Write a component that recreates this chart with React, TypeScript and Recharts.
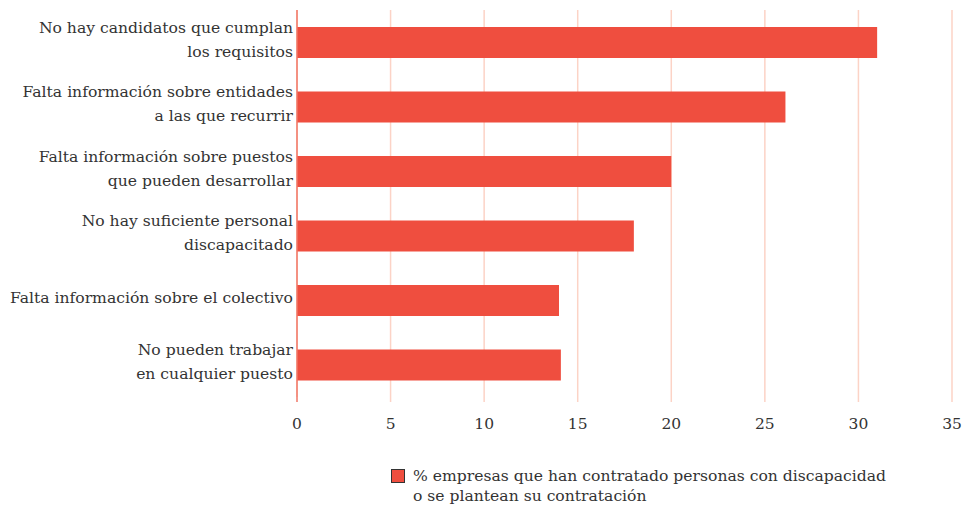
import * as React from "react";
import { BarChart, Bar, XAxis, YAxis, CartesianGrid } from "recharts";

const categories = [
  "No hay candidatos que cumplan\nlos requisitos",
  "Falta información sobre entidades\na las que recurrir",
  "Falta información sobre puestos\nque pueden desarrollar",
  "No hay suficiente personal\ndiscapacitado",
  "Falta información sobre el colectivo",
  "No pueden trabajar\nen cualquier puesto",
];
const values = [31, 26.1, 20, 18, 14, 14.1];
const xTicks = [0, 5, 10, 15, 20, 25, 30, 35];
const legendLines = [
  "% empresas que han contratado personas con discapacidad",
  "o se plantean su contratación",
];

const BAR = "#ef4e3f";
const GRID = "#fcd3c6";
const AXIS = "#f07767";
const TEXT = "#333333";
const FONT = "'DejaVu Serif', serif";

const data = categories.map((c, i) => ({ name: c, value: values[i] }));

function YTick({ x, y, payload }: any) {
  const lines = String(payload.value).split("\n");
  const n = lines.length;
  return (
    <text
      x={x}
      y={y}
      textAnchor="end"
      fill={TEXT}
      fontSize={15.6}
      fontFamily={FONT}
    >
      {lines.map((l, i) => (
        <tspan key={i} x={x} y={y + 2.5 + (i - (n - 1) / 2) * 24}>
          {l}
        </tspan>
      ))}
    </text>
  );
}

function XTick({ x, y, payload }: any) {
  const isZero = payload.value === 0;
  return (
    <g>
      <line
        x1={x}
        x2={x}
        y1={y - 5}
        y2={y}
        stroke={isZero ? AXIS : GRID}
        strokeWidth={1.5}
      />
      <text
        x={x}
        y={y + 26.5}
        textAnchor="middle"
        fill={TEXT}
        fontSize={15.5}
        fontFamily={FONT}
      >
        {payload.value}
      </text>
    </g>
  );
}

export default function App() {
  return (
    <div
      style={{
        position: "absolute",
        left: 0,
        top: 0,
        width: 966,
        height: 511,
        background: "#fff",
        fontFamily: FONT,
      }}
    >
      <BarChart
        width={966}
        height={440}
        data={data}
        layout="vertical"
        margin={{ top: 10, right: 14, bottom: 0, left: 0 }}
        barSize={31}
      >
        <CartesianGrid
          horizontal={false}
          stroke={GRID}
          strokeWidth={1.5}
        />
        <XAxis
          type="number"
          domain={[0, 35]}
          ticks={xTicks}
          axisLine={false}
          tickLine={false}
          tickSize={5}
          tickMargin={0}
          tick={<XTick />}
          height={43}
          interval={0}
        />
        <YAxis
          type="category"
          dataKey="name"
          width={297}
          axisLine={{ stroke: AXIS, strokeWidth: 1.5 }}
          tickLine={false}
          tickSize={0}
          tickMargin={4}
          tick={<YTick />}
          interval={0}
        />
        <Bar dataKey="value" fill={BAR} isAnimationActive={false} />
      </BarChart>

      {/* Legend */}
      <div
        style={{
          position: "absolute",
          left: 391,
          top: 466,
          display: "flex",
          alignItems: "flex-start",
          fontSize: 15.6,
          color: TEXT,
          lineHeight: "20px",
        }}
      >
        <div
          style={{
            width: 12,
            height: 12,
            background: BAR,
            border: "1px solid #333",
            marginTop: 3,
            marginRight: 8,
          }}
        />
        <div>
          {legendLines.map((l, i) => (
            <div key={i}>{l}</div>
          ))}
        </div>
      </div>
    </div>
  );
}
